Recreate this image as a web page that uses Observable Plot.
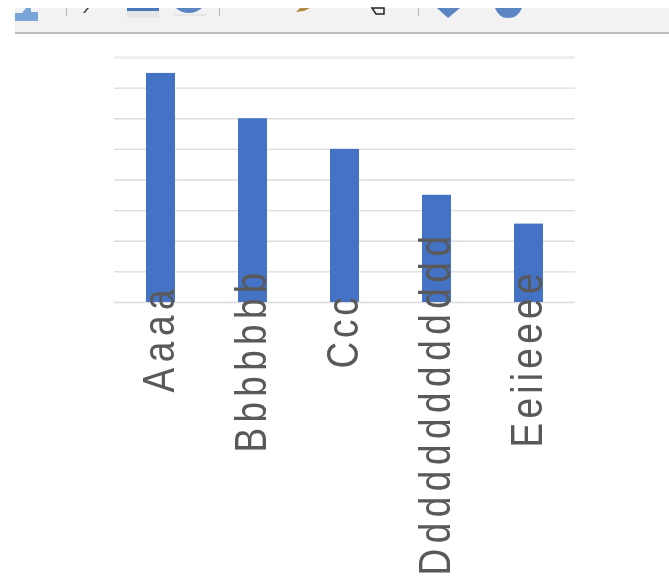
<!DOCTYPE html>
<html>
<head>
<meta charset="utf-8">
<script src="https://cdn.jsdelivr.net/npm/d3@7"></script>
<script src="https://cdn.jsdelivr.net/npm/@observablehq/plot@0.6"></script>
<style>
html,body{margin:0;padding:0;background:#fff;overflow:hidden}
#wrap{position:relative;width:669px;height:577px}
#bar{position:absolute;left:0;top:0;filter:blur(.6px)}
#chart{position:absolute;left:0;top:0;filter:blur(.5px)}
</style>
</head>
<body>
<div id="wrap">
<div id="chart"></div>
<svg id="bar" width="669" height="40" aria-hidden="true">
  <rect x="15" y="8" width="654" height="25" fill="#f2f2f2"/>
  <rect x="15" y="32" width="654" height="2" fill="#bdbdbd"/>
  <path d="M15 21V13H22L26 8H31V12H38V21Z" fill="#79a6d6"/>
  <rect x="66" y="8" width="1" height="8" fill="#b5b5b5"/>
  <path d="M83 13L87 8H89L85 13Z" fill="#444"/>
  <rect x="127" y="11" width="32" height="7" fill="#e6e6e6"/>
  <rect x="127" y="8" width="32" height="3" fill="#4a77b8"/>
  <path d="M174 14H206V16H174Z" fill="#e6e6e6"/>
  <path d="M176 8H202Q196 13 189 13Q181 13 176 8Z" fill="#5b85c2"/>
  <rect x="219" y="8" width="1" height="8" fill="#b5b5b5"/>
  <path d="M296 12L300 8H310L304 11Z" fill="#b08a3c"/>
  <path d="M372 8H384V14H376Z" fill="none" stroke="#222" stroke-width="1.5"/>
  <rect x="418" y="8" width="1" height="8" fill="#b5b5b5"/>
  <path d="M437 8H460L448 18Z" fill="#5b85c2"/>
  <path d="M495 8H522Q518 18 508 18Q499 18 495 8Z" fill="#5b85c2"/>
</svg>
</div>
<script>
const categories = ["Aaaa", "Bbbbbbb", "Ccc", "Ddddddddddddd", "Eeiieeee"];
const values = [37.4, 30, 25, 17.5, 12.8];
const gridValues = [0, 5, 10, 15, 20, 25, 30, 35];
const topGrid = [40];

const rows = categories.map((c, i) => ({category: c, value: values[i]}));
const labelDrop = {"Aaaa": 90, "Bbbbbbb": 150, "Ccc": 66, "Ddddddddddddd": 273, "Eeiieeee": 145};
const labelSpacing = {"Aaaa": 5.6, "Bbbbbbb": 5.3, "Ccc": 3.8, "Ddddddddddddd": 5.5, "Eeiieeee": 4.3};

const plot = Plot.plot({
  width: 669,
  height: 577,
  marginTop: 57,
  marginBottom: 275,
  marginLeft: 114,
  marginRight: 94,
  style: {background: "transparent", overflow: "visible"},
  x: {domain: categories, paddingInner: 0.685, paddingOuter: 0.3425, axis: null},
  y: {domain: [0, 40], axis: null},
  marks: [
    Plot.ruleY(gridValues, {stroke: "#dcdcdc", strokeWidth: 1.4}),
    Plot.ruleY(topGrid, {stroke: "#ececec", strokeWidth: 2.5}),
    Plot.barY(rows, {x: "category", y: "value", fill: "#4472c4"}),
    ...categories.map(c => Plot.text([c], {
      x: d => d,
      y: () => 0,
      text: d => d,
      rotate: -90,
      textAnchor: "start",
      dy: labelDrop[c],
      dx: 12.5,
      lineAnchor: "bottom",
      fill: "#595959",
      fontSize: 37,
      fontFamily: "Liberation Sans"
    }))
  ]
});
document.getElementById("chart").append(plot);
d3.select(plot).selectAll("text").each(function(){
  const t = d3.select(this);
  t.style("letter-spacing", labelSpacing[t.text()] + "px");
  const tr = t.attr("transform");
  if (tr) t.attr("transform", tr + " scale(1,1.21)");
});
</script>
</body>
</html>
